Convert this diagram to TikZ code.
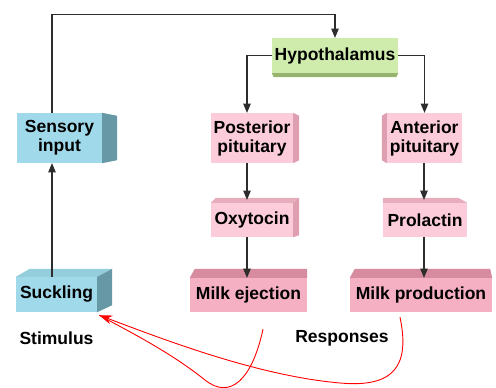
\documentclass[tikz,border=0pt]{standalone}
\usepackage{fontspec}
\setmainfont{Liberation Sans}
\usetikzlibrary{arrows,arrows.meta,calc}
\definecolor{bluefront}{RGB}{160,218,234}
\definecolor{blueside}{RGB}{102,152,166}
\definecolor{pinkfront}{RGB}{252,204,218}
\definecolor{pinkside}{RGB}{222,160,176}
\definecolor{rosefront}{RGB}{246,176,196}
\definecolor{roseside}{RGB}{214,140,158}
\definecolor{greenfront}{RGB}{208,236,172}
\definecolor{greenside}{RGB}{150,180,112}
\definecolor{linegray}{RGB}{45,45,45}
\tikzstyle{box}=[rectangle,inner sep=0pt,align=center,font=\fontsize{17.5}{19}\selectfont\bfseries]

\begin{document}
\begin{tikzpicture}[x=1pt,y=-1pt,>=triangle 45]
\tikzset{conn/.style={draw=linegray,line width=1.1pt}}
\tikzset{back/.style={red,line width=0.9pt}}
\useasboundingbox (0,0) rectangle (496,388);

% top box
\node[box,fill=greenfront,minimum width=126pt,minimum height=35pt] (hypo) at (335,55.5) {Hypothalamus};
\fill[greenside] (hypo.south west) -- (hypo.south east) -- ++(-2,4) -- ($(hypo.south west)+(2,4)$) -- cycle;

% left column
\node[box,fill=bluefront,minimum width=85pt,minimum height=50pt] (sens) at (59.5,138) {Sensory\\input};
\fill[blueside] (sens.north east) -- ++(15,3) -- ($(sens.south east)+(15,-3)$) -- (sens.south east) -- cycle;
\node[box,fill=bluefront,minimum width=81pt,minimum height=35pt] (suck) at (56.5,294.5) {Suckling};
\fill[bluefront!80!blueside] (suck.north west) -- ++(14,-8) -- ($(suck.north east)+(15,-8)$) -- (suck.north east) -- cycle;
\fill[blueside] (suck.north east) -- ++(15,-8) -- ($(suck.south east)+(15,-7)$) -- (suck.south east) -- cycle;

% middle column
\node[box,fill=pinkfront,minimum width=82pt,minimum height=50pt] (post) at (252,138) {Posterior\\pituitary};
\fill[pinkside] (post.north east) -- ++(6,3) -- ($(post.south east)+(6,-3)$) -- (post.south east) -- cycle;
\node[box,fill=pinkfront,minimum width=82pt,minimum height=34pt] (oxy) at (252,220) {Oxytocin};
\fill[pinkside!70!pinkfront] (oxy.north west) -- ++(5,-5) -- ($(oxy.north east)+(6,-5)$) -- (oxy.north east) -- cycle;
\fill[pinkside] (oxy.north east) -- ++(6,-5) -- ($(oxy.south east)+(6,-2)$) -- (oxy.south east) -- cycle;
\node[box,fill=rosefront,minimum width=117pt,minimum height=34pt] (eject) at (248.5,295) {Milk ejection};
\fill[roseside] (eject.north west) -- ++(5,-9) -- ($(eject.north east)+(0,-9)$) -- (eject.north east) -- cycle;

% right column
\node[box,fill=pinkfront,minimum width=75pt,minimum height=50pt] (ant) at (424.5,138) {Anterior\\pituitary};
\fill[pinkside] (ant.north west) -- ++(-5,3) -- ($(ant.south west)+(-5,-3)$) -- (ant.south west) -- cycle;
\node[box,fill=pinkfront,minimum width=84pt,minimum height=34pt] (prol) at (425,220) {Prolactin};
\fill[pinkside!70!pinkfront] (prol.north west) -- ++(0,-5) -- ($(prol.north east)+(-9,-5)$) -- (prol.north east) -- cycle;
\node[box,fill=rosefront,minimum width=142pt,minimum height=34pt] (prod) at (421,295) {Milk production};
\fill[roseside] (prod.north west) -- ++(5,-9) -- ($(prod.north east)+(-2,-9)$) -- (prod.north east) -- cycle;

% labels
\node[box] (stim) at (56.5,338) {Stimulus};
\node[box] (resp) at (342,338) {Responses};

% connectors
\draw[conn,->] ([xshift=-7.5pt]sens.north) -- ++(0,-98) -| (hypo.north);
\draw[conn,->] (hypo.west) -| ([xshift=-5pt]post.north);
\draw[conn,->] (hypo.east) -| (ant.north);
\draw[conn,->] ([xshift=-5pt]post.south) -- ([xshift=-5pt,yshift=3pt]oxy.north);
\draw[conn,->] ([xshift=-5pt]oxy.south) -- ([xshift=-1.5pt]eject.north);
\draw[conn,->] ([xshift=-0.5pt]ant.south) -- ([xshift=-1pt,yshift=3pt]prol.north);
\draw[conn,->] ([xshift=-1pt]prol.south) -- ([xshift=3pt]prod.north);
\draw[conn,->] ([xshift=-4.5pt]suck.north) -- ([xshift=-7.5pt]sens.south);

% feedback to the stimulus
\coordinate (tip) at ($(suck.south east)+(2,3)$);
\coordinate (ejfoot) at ($(eject.south)+(14.5,17)$);
\coordinate (prfoot) at ($(prod.south)+(-21,5)$);
\draw[back] (ejfoot) .. controls (252,380) and (230,400) .. (205,380) .. controls (170,352) and (130,332) .. (tip);
\draw[back,-{Stealth[length=13pt,width=9pt]}] (prfoot) .. controls (410,365) and (395,388) .. (340,383) .. controls (260,376) and (170,342) .. (tip);
\end{tikzpicture}
\end{document}
